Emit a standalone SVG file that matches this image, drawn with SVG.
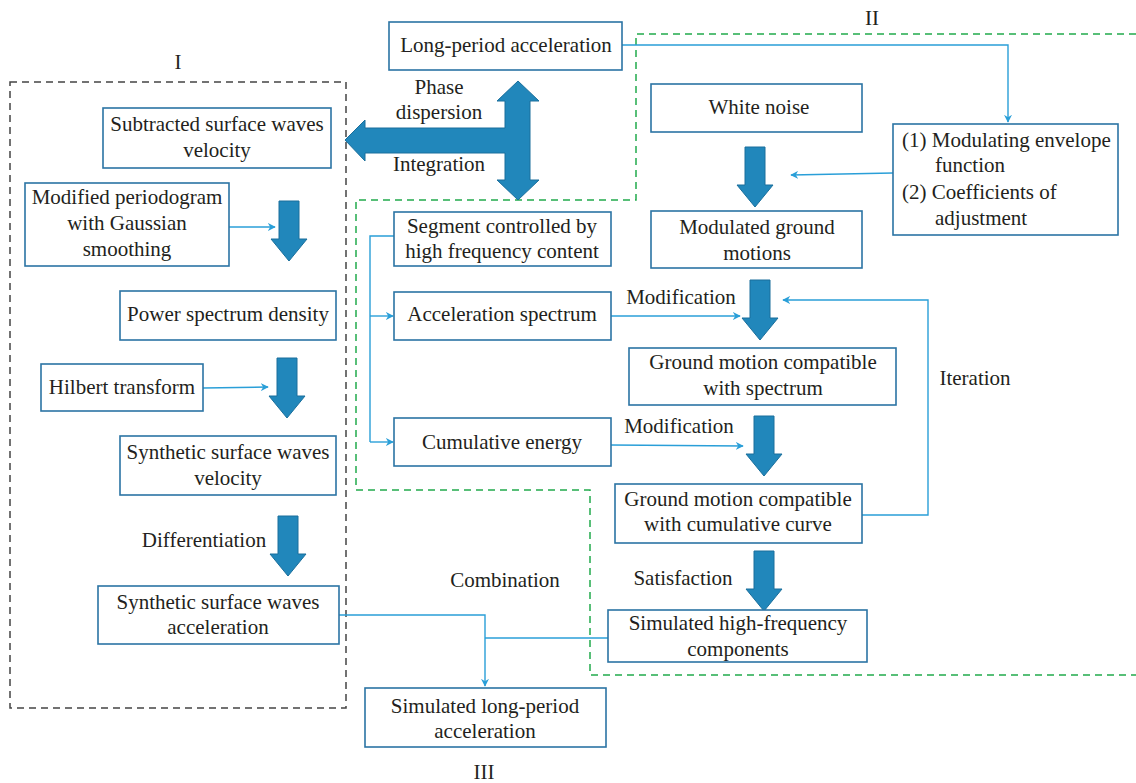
<svg xmlns="http://www.w3.org/2000/svg" width="1136" height="783" viewBox="0 0 1136 783">
<style>
.box{fill:#fff;stroke:#2b74a4;stroke-width:1.6}
.t{font-family:'Liberation Serif','Times New Roman',serif;font-size:21px;fill:#231f20;text-anchor:middle}
.ts{font-family:'Liberation Serif','Times New Roman',serif;font-size:21px;fill:#231f20}
.c{fill:none;stroke:#2a9fd8;stroke-width:1.4}
.ba{fill:#2187bb;stroke:#1b6f9c;stroke-width:1}
.dk{fill:none;stroke:#444;stroke-width:1.5;stroke-dasharray:7,5}
.dg{fill:none;stroke:#22aa4c;stroke-width:1.5;stroke-dasharray:7,5}
</style>
<defs>
<marker id="ah" viewBox="0 0 10 10" refX="9" refY="5" markerWidth="8" markerHeight="8" markerUnits="userSpaceOnUse" orient="auto">
<path d="M0,0 L10,5 L0,10 L3,5 z" fill="#2a9fd8"/>
</marker>
<path id="bdn" d="M-10,0 L10,0 L10,38 L18,38 L0,60 L-18,38 L-10,38 z"/>
</defs>
<g id="regions">
<rect class="dk" x="10" y="82" width="336" height="626"/>
<path class="dg" d="M1136,34 L636,34 L636,200 L356,200 L356,490 L590,490 L590,675 L1136,675"/>
<text class="t" x="178" y="69">I</text>
<text class="t" x="872" y="25">II</text>
<text class="t" x="484" y="779">III</text>
</g>
<g id="connectors">
<path class="c" d="M622,45 L1008,45 L1008,122" marker-end="url(#ah)"/>
<path class="c" d="M893,173 L791,175" marker-end="url(#ah)"/>
<path class="c" d="M229,227 L275,227" marker-end="url(#ah)"/>
<path class="c" d="M203,388 L268,387" marker-end="url(#ah)"/>
<path class="c" d="M394,236 L370,236 L370,442"/>
<path class="c" d="M370,316 L393,316" marker-end="url(#ah)"/>
<path class="c" d="M370,442 L393,442" marker-end="url(#ah)"/>
<path class="c" d="M611,316 L740,316" marker-end="url(#ah)"/>
<path class="c" d="M611,445 L743,446" marker-end="url(#ah)"/>
<path class="c" d="M862,515 L928,515 L928,300 L783,300" marker-end="url(#ah)"/>
<path class="c" d="M339,615 L485,615 L485,686" marker-end="url(#ah)"/>
<path class="c" d="M608,638 L485,638"/>
<polygon class="ba" points="518,81 539,101 530,101 530,180 539,180 518,200 497,180 505,180 505,153 365,153 365,161 345,140 365,120 365,128 505,128 505,101 497,101"/>
<use href="#bdn" class="ba" x="289" y="201"/>
<use href="#bdn" class="ba" x="287" y="358"/>
<use href="#bdn" class="ba" x="288" y="516"/>
<use href="#bdn" class="ba" x="755" y="147"/>
<use href="#bdn" class="ba" x="760" y="280"/>
<use href="#bdn" class="ba" x="764" y="416"/>
<use href="#bdn" class="ba" x="764" y="551"/>
<text class="t" x="439" y="94">Phase</text>
<text class="t" x="439" y="119">dispersion</text>
<text class="t" x="439" y="171">Integration</text>
<text class="t" x="204" y="547">Differentiation</text>
<text class="t" x="681" y="304">Modification</text>
<text class="t" x="679" y="433">Modification</text>
<text class="t" x="683" y="585">Satisfaction</text>
<text class="t" x="975" y="385">Iteration</text>
<text class="t" x="505" y="587">Combination</text>
</g>
<g id="n-longperiod"><rect class="box" x="389" y="22" width="233" height="48"/><text class="t" x="506" y="52">Long-period acceleration</text></g>
<g id="n-subtracted"><rect class="box" x="103" y="108" width="228" height="60"/><text class="t" x="217" y="131">Subtracted surface waves</text><text class="t" x="217" y="157">velocity</text></g>
<g id="n-periodogram"><rect class="box" x="25" y="183" width="204" height="83"/><text class="t" x="127" y="204">Modified periodogram</text><text class="t" x="127" y="230">with Gaussian</text><text class="t" x="127" y="256">smoothing</text></g>
<g id="n-psd"><rect class="box" x="120" y="291" width="216" height="49"/><text class="t" x="228" y="321">Power spectrum density</text></g>
<g id="n-hilbert"><rect class="box" x="41" y="364" width="162" height="47"/><text class="t" x="122" y="394">Hilbert transform</text></g>
<g id="n-synvel"><rect class="box" x="120" y="436" width="216" height="59"/><text class="t" x="228" y="459">Synthetic surface waves</text><text class="t" x="228" y="485">velocity</text></g>
<g id="n-synacc"><rect class="box" x="98" y="586" width="241" height="58"/><text class="t" x="218" y="609">Synthetic surface waves</text><text class="t" x="218" y="634">acceleration</text></g>
<g id="n-segment"><rect class="box" x="394" y="212" width="217" height="54"/><text class="t" x="502" y="233">Segment controlled by</text><text class="t" x="502" y="258">high frequency content</text></g>
<g id="n-accspec"><rect class="box" x="394" y="292" width="217" height="48"/><text class="t" x="502" y="321">Acceleration spectrum</text></g>
<g id="n-cumen"><rect class="box" x="394" y="418" width="217" height="48"/><text class="t" x="502" y="449">Cumulative energy</text></g>
<g id="n-whitenoise"><rect class="box" x="651" y="84" width="211" height="48"/><text class="t" x="759" y="114">White noise</text></g>
<g id="n-envelope"><rect class="box" x="893" y="124" width="225" height="111"/><text class="ts" x="902" y="147">(1) Modulating envelope</text><text class="ts" x="935" y="172">function</text><text class="ts" x="902" y="199">(2) Coefficients of</text><text class="ts" x="935" y="225">adjustment</text></g>
<g id="n-modulated"><rect class="box" x="651" y="211" width="211" height="57"/><text class="t" x="757" y="234">Modulated ground</text><text class="t" x="757" y="260">motions</text></g>
<g id="n-gmspec"><rect class="box" x="629" y="348" width="267" height="57"/><text class="t" x="763" y="369">Ground motion compatible</text><text class="t" x="763" y="395">with spectrum</text></g>
<g id="n-gmcum"><rect class="box" x="615" y="484" width="247" height="59"/><text class="t" x="738" y="506">Ground motion compatible</text><text class="t" x="738" y="531">with cumulative curve</text></g>
<g id="n-simhf"><rect class="box" x="608" y="610" width="259" height="52"/><text class="t" x="738" y="630">Simulated high-frequency</text><text class="t" x="738" y="656">components</text></g>
<g id="n-simlp"><rect class="box" x="365" y="688" width="241" height="59"/><text class="t" x="485" y="713">Simulated long-period</text><text class="t" x="485" y="738">acceleration</text></g>
</svg>
